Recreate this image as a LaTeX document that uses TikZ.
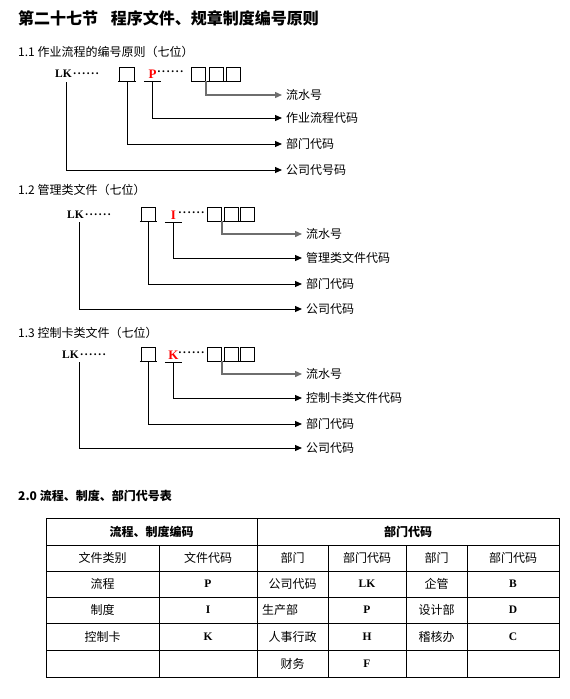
\documentclass[tikz,border=0pt]{standalone}
\usepackage{fontspec}
\setmainfont{Noto Sans CJK SC}
\newfontfamily\codefont{Liberation Serif}
\usetikzlibrary{arrows.meta}
\definecolor{leadgray}{RGB}{110,110,110}
\newcommand\dotrow{\kern1pt·\kern0.7pt·\kern0.7pt·\kern0.7pt·\kern0.7pt·\kern0.7pt·}

\begin{document}
\begin{tikzpicture}[x=1pt, y=-1pt,
        title/.style={anchor=west, inner sep=0pt, font=\fontsize{16}{18}\selectfont\bfseries},
        heading/.style={anchor=west, inner sep=0pt, font=\fontsize{12}{14}\selectfont},
        lknode/.style={anchor=west, inner sep=0pt, font=\codefont\bfseries\fontsize{11.5}{12}\selectfont},
        codeletter/.style={inner sep=0pt, minimum width=17pt, minimum height=14pt, text=red, font=\codefont\bfseries\fontsize{13}{13}\selectfont},
        digitbox/.style={draw, line width=0.9pt, minimum width=14.5pt, minimum height=14pt, inner sep=0pt},
        serialbox/.style={digitbox, minimum width=14pt},
        underl/.style={line width=0.9pt},
        fieldlabel/.style={anchor=west, inner sep=0pt, font=\fontsize{12}{14}\selectfont},
        feed/.style={line width=1pt, -{Triangle[length=7pt,width=6pt]}, shorten >=4pt},
        feedgray/.style={feed, draw=leadgray, line width=1.4pt},
        tableline/.style={line width=0.9pt},
        celltext/.style={inner sep=0pt, font=\fontsize{12}{14}\selectfont},
        cellhead/.style={celltext, font=\fontsize{12}{14}\selectfont\bfseries},
        cellcode/.style={inner sep=0pt, font=\codefont\bfseries\fontsize{11.5}{12}\selectfont}
    ]
    \useasboundingbox (0,0) rectangle (570,699);

    % title
    \node[title] (title) at (18,18) {第二十七节\hspace{0.8em}程序文件、规章制度编号原则};

    % 1.1
    \node[heading] (h11) at (18,52) {1.1 作业流程的编号原则（七位）};
    \node[lknode] (lk1) at (55,74) {LK\dotrow};
    \node[digitbox] (dept1) at (127,74) {};
    \node[codeletter] (code1) at (152.5,74) {P};
    \node[lknode] (dots1) at (156,73) {\dotrow};
    \node[serialbox] (sa1) at (198.5,74) {};
    \node[serialbox] (sb1) at (216,74) {};
    \node[serialbox] (sc1) at (233,74) {};
    \coordinate (lkc1) at (66,82);
    \draw[line width=1.8pt] ([xshift=-1pt]dept1.south west) -- ([xshift=1pt]dept1.south east);
    \draw[underl] (code1.south west) -- (code1.south east);
    \draw[underl] (sa1.south west) -- (sc1.south east);

    \node[fieldlabel] (ls1) at (286,95) {流水号};
    \node[fieldlabel] (lc1) at (286,118) {作业流程代码};
    \node[fieldlabel] (ld1) at (286,144) {部门代码};
    \node[fieldlabel] (lg1) at (286,170) {公司代号码};
    \draw[feedgray] (sa1.south east) |- (ls1.west);
    \draw[feed] (code1.south) |- (lc1.west);
    \draw[feed] (dept1.south) |- (ld1.west);
    \draw[feed] (lkc1) |- (lg1.west);

    % 1.2
    \node[heading] (h12) at (18,190) {1.2 管理类文件（七位）};
    \node[lknode] (lk2) at (67,215) {LK\dotrow};
    \node[digitbox] (dept2) at (148.5,214) {};
    \node[codeletter] (code2) at (173.5,215) {I};
    \node[lknode] (dots2) at (177,214) {\dotrow};
    \node[serialbox] (sa2) at (214.5,214) {};
    \node[serialbox] (sb2) at (231,214) {};
    \node[serialbox] (sc2) at (247.5,214) {};
    \coordinate (lkc2) at (79,222);
    \draw[line width=1.8pt] ([xshift=-1pt]dept2.south west) -- ([xshift=1pt]dept2.south east);
    \draw[underl] (code2.south west) -- (code2.south east);
    \draw[underl] (sa2.south west) -- (sc2.south east);

    \node[fieldlabel] (ls2) at (306,234) {流水号};
    \node[fieldlabel] (lc2) at (306,258) {管理类文件代码};
    \node[fieldlabel] (ld2) at (306,284) {部门代码};
    \node[fieldlabel] (lg2) at (306,309) {公司代码};
    \draw[feedgray] (sa2.south east) |- (ls2.west);
    \draw[feed] (code2.south) |- (lc2.west);
    \draw[feed] (dept2.south) |- (ld2.west);
    \draw[feed] (lkc2) |- (lg2.west);

    % 1.3
    \node[heading] (h13) at (18,333) {1.3 控制卡类文件（七位）};
    \node[lknode] (lk3) at (62,355) {LK\dotrow};
    \node[digitbox] (dept3) at (148.5,354) {};
    \node[codeletter] (code3) at (173.5,355) {K};
    \node[lknode] (dots3) at (177,354) {\dotrow};
    \node[serialbox] (sa3) at (214.5,354) {};
    \node[serialbox] (sb3) at (231,354) {};
    \node[serialbox] (sc3) at (247.5,354) {};
    \coordinate (lkc3) at (79,362);
    \draw[line width=1.8pt] ([xshift=-1pt]dept3.south west) -- ([xshift=1pt]dept3.south east);
    \draw[underl] (code3.south west) -- (code3.south east);
    \draw[underl] (sa3.south west) -- (sc3.south east);

    \node[fieldlabel] (ls3) at (306,374) {流水号};
    \node[fieldlabel] (lc3) at (306,398) {控制卡类文件代码};
    \node[fieldlabel] (ld3) at (306,424) {部门代码};
    \node[fieldlabel] (lg3) at (306,448) {公司代码};
    \draw[feedgray] (sa3.south east) |- (ls3.west);
    \draw[feed] (code3.south) |- (lc3.west);
    \draw[feed] (dept3.south) |- (ld3.west);
    \draw[feed] (lkc3) |- (lg3.west);

    % 2.0 table
    \node[heading, font=\fontsize{12}{14}\selectfont\bfseries] (h20) at (18,496) {2.0 流程、制度、部门代号表};

    \draw[tableline] (46,518) rectangle (559,677);
    \foreach \y in {545,571,597,623,650}{
        \draw[tableline] (46,\y) -- (559,\y);
    }
    \draw[tableline] (257,518) -- (257,677);
    \foreach \x in {159,328,406,467}{
        \draw[tableline] (\x,545) -- (\x,677);
    }

    % header rows
    \node[cellhead] (hflow) at (151.5,531.5) {流程、制度编码};
    \node[cellhead] (hdept) at (408,531.5) {部门代码};
    \node[celltext] (r2c1) at (102.5,558) {文件类别};
    \node[celltext] (r2c2) at (208,558) {文件代码};
    \node[celltext] (r2c3) at (292.5,558) {部门};
    \node[celltext] (r2c4) at (367,558) {部门代码};
    \node[celltext] (r2c5) at (436.5,558) {部门};
    \node[celltext] (r2c6) at (513,558) {部门代码};

    % body rows
    \node[celltext] (r3c1) at (102.5,584) {流程};
    \node[cellcode] (r3c2) at (208,584) {P};
    \node[celltext] (r3c3) at (292.5,584) {公司代码};
    \node[cellcode] (r3c4) at (367,584) {LK};
    \node[celltext] (r3c5) at (436.5,584) {企管};
    \node[cellcode] (r3c6) at (513,584) {B};

    \node[celltext] (r4c1) at (102.5,610) {制度};
    \node[cellcode] (r4c2) at (208,610) {I};
    \node[celltext, anchor=west] (r4c3) at (262,610) {生产部};
    \node[cellcode] (r4c4) at (367,610) {P};
    \node[celltext] (r4c5) at (436.5,610) {设计部};
    \node[cellcode] (r4c6) at (513,610) {D};

    \node[celltext] (r5c1) at (102.5,636.5) {控制卡};
    \node[cellcode] (r5c2) at (208,636.5) {K};
    \node[celltext] (r5c3) at (292.5,636.5) {人事行政};
    \node[cellcode] (r5c4) at (367,636.5) {H};
    \node[celltext] (r5c5) at (436.5,636.5) {稽核办};
    \node[cellcode] (r5c6) at (513,636.5) {C};

    \node[celltext] (r6c3) at (292.5,663.5) {财务};
    \node[cellcode] (r6c4) at (367,663.5) {F};

\end{tikzpicture}
\end{document}
